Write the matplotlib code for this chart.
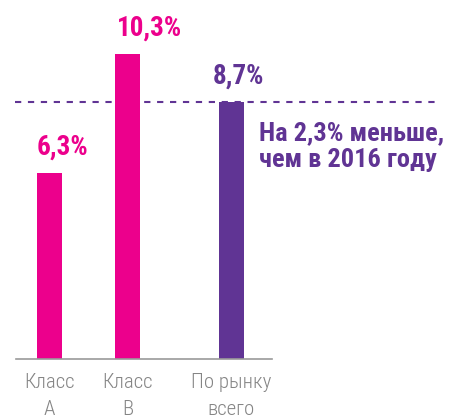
import matplotlib
matplotlib.use("Agg")
import matplotlib.pyplot as plt

# data
categories = ["Класс\nА", "Класс\nВ", "По рынку\nвсего"]
values = [6.3, 10.3, 8.7]
value_labels = ["6,3%", "10,3%", "8,7%"]
positions = [0, 1, 2.33]
note = "На 2,3% меньше,\nчем в 2016 году"

PINK = "#EC008C"
PURPLE = "#603494"
GRAY = "#858585"
colors = [PINK, PINK, PURPLE]
FONT = ["Roboto Condensed", "Roboto", "DejaVu Sans"]

fig = plt.figure(figsize=(4.49, 4.16), dpi=100)
ax = fig.add_axes([0, 0, 1, 1])
ax.set_xlim(-0.635, 5.122)
ax.set_ylim(-1.926, 12.13)
ax.axis("off")

width = 0.32
ax.bar(positions, values, width=width, color=colors, zorder=2)

# baseline
ax.plot([-0.43, 2.853], [0, 0], color="#9a9a9a", lw=1.2, zorder=3)

# dashed reference line at market level
ax.plot([-0.442, 4.94], [values[2], values[2]], color=PURPLE, lw=1.5,
        dashes=(3, 3.2), zorder=1)

# value labels
offsets = [0.0, 0.02, -0.08]
for p, v, lab, c, off in zip(positions, values, value_labels, colors, offsets):
    ax.text(p - width / 2 + off, v + 0.62, lab, ha="left", va="baseline",
            color=c, fontsize=19.5, fontweight="bold", family=FONT)

# category labels
for p, cat in zip(positions, categories):
    ax.text(p, -0.48, cat, ha="center", va="top", color=GRAY,
            fontsize=15, fontweight="light", family=FONT, linespacing=1.5)

# note
ax.text(2.69, 8.05, note, ha="left", va="top", color=PURPLE,
        fontsize=19, fontweight="bold", family=FONT, linespacing=1.18)

fig.savefig("out.png", dpi=100)
